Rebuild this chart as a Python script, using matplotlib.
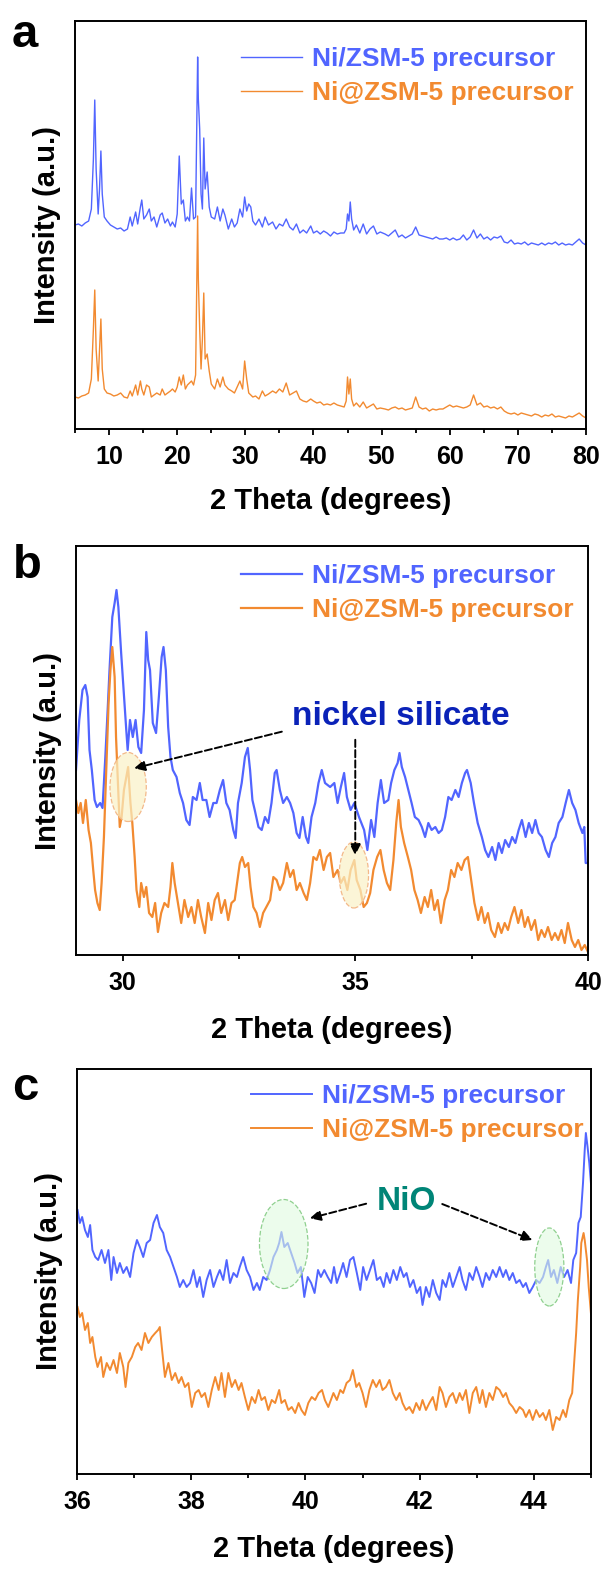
import matplotlib
matplotlib.use("Agg")
import matplotlib.pyplot as plt
from matplotlib.patches import Ellipse
from matplotlib.ticker import MultipleLocator

plt.rcParams['font.family'] = ['Liberation Sans', 'DejaVu Sans']
plt.rcParams['font.weight'] = 'bold'
plt.rcParams['axes.labelweight'] = 'bold'

BLUE = '#5165ff'
ORANGE = '#f28a30'
labels = ['Ni/ZSM-5 precursor', 'Ni@ZSM-5 precursor']

# ---- panel a : full scan, intensities in arbitrary units (offset curves)
a_theta = [5.0, 5.5, 6.0, 6.5, 7.0, 7.4, 7.7, 7.9, 8.1, 8.4,
           8.6, 8.8, 9.0, 9.3, 9.7, 10.2, 10.7, 11.2, 11.7, 12.2,
           12.7, 13.1, 13.4, 13.9, 14.2, 14.6, 14.8, 15.1, 15.5, 15.9,
           16.2, 16.6, 17.0, 17.5, 17.8, 18.2, 18.6, 19.0, 19.3, 19.7,
           20.0, 20.3, 20.6, 20.9, 21.2, 21.5, 21.8, 22.1, 22.4, 22.7,
           23.0, 23.1, 23.3, 23.5, 23.7, 23.9, 24.1, 24.4, 24.7, 25.0,
           25.5, 25.9, 26.3, 26.7, 27.0, 27.5, 28.0, 28.4, 28.8, 29.2,
           29.6, 29.9, 30.2, 30.5, 30.8, 31.1, 31.5, 32.0, 32.5, 32.9,
           33.4, 34.0, 34.5, 35.0, 35.5, 36.0, 36.5, 37.0, 37.5, 38.0,
           38.5, 39.0, 39.6, 40.0, 40.5, 41.0, 41.5, 42.0, 42.5, 43.0,
           43.5, 44.0, 44.5, 44.8, 45.0, 45.2, 45.4, 45.6, 45.9, 46.3,
           46.8, 47.3, 47.8, 48.3, 48.8, 49.3, 49.8, 50.5, 51.0, 51.5,
           52.0, 52.5, 53.0, 53.5, 54.0, 54.5, 55.0, 55.5, 56.0, 56.5,
           57.0, 57.5, 58.0, 58.5, 59.0, 59.5, 60.0, 60.5, 61.0, 61.5,
           62.0, 62.5, 63.0, 63.5, 64.0, 64.5, 65.0, 65.5, 66.0, 66.5,
           67.0, 67.5, 68.0, 68.5, 69.0, 69.5, 70.0, 70.5, 71.0, 71.5,
           72.0, 72.5, 73.0, 73.5, 74.0, 74.5, 75.0, 75.5, 76.0, 76.5,
           77.0, 77.5, 78.0, 78.5, 79.0, 79.5, 80.0]
a_blue = [204, 205, 203, 206, 208, 220, 270, 329, 260, 215,
          240, 278, 235, 212, 208, 204, 202, 200, 201, 198,
          200, 212, 203, 217, 205, 222, 229, 210, 214, 220,
          208, 212, 202, 214, 216, 206, 210, 203, 207, 202,
          215, 273, 225, 229, 208, 212, 208, 241, 210, 212,
          372, 330, 300, 235, 220, 291, 240, 257, 222, 212,
          210, 222, 208, 220, 214, 200, 210, 202, 206, 220,
          212, 232, 218, 225, 222, 208, 204, 210, 202, 212,
          204, 207, 200, 205, 203, 210, 202, 199, 205, 196,
          199, 196, 203, 196, 198, 195, 198, 196, 193, 197,
          195, 196, 196, 200, 215, 208, 227, 210, 199, 204,
          196, 205, 195, 200, 203, 195, 197, 195, 193, 196,
          199, 192, 194, 191, 193, 195, 202, 194, 193, 192,
          191, 190, 192, 190, 190, 191, 189, 191, 189, 190,
          194, 189, 192, 199, 191, 195, 190, 192, 189, 192,
          191, 193, 187, 186, 189, 185, 186, 185, 187, 184,
          186, 185, 184, 186, 184, 186, 185, 187, 184, 186,
          184, 185, 184, 187, 190, 186, 184]
a_orange = [32, 31, 33, 34, 36, 50, 100, 139, 80, 48,
            80, 110, 60, 40, 36, 35, 33, 34, 36, 32,
            31, 38, 33, 44, 34, 48, 40, 34, 44, 42,
            32, 34, 36, 34, 40, 34, 36, 38, 40, 37,
            42, 52, 44, 54, 40, 44, 46, 48, 44, 54,
            213, 150, 100, 60, 90, 136, 70, 75, 58, 45,
            40, 50, 42, 52, 44, 40, 38, 36, 42, 48,
            40, 68, 50, 36, 34, 32, 33, 30, 38, 33,
            35, 38, 36, 40, 37, 46, 34, 36, 38, 30,
            28, 27, 30, 28, 26, 27, 24, 25, 24, 26,
            24, 23, 22, 28, 52, 35, 50, 30, 23, 26,
            22, 27, 21, 23, 25, 20, 21, 20, 19, 21,
            22, 20, 21, 19, 20, 21, 32, 22, 20, 21,
            18, 20, 19, 20, 20, 22, 24, 22, 23, 22,
            21, 22, 24, 34, 24, 26, 22, 23, 21, 22,
            20, 22, 18, 16, 15, 16, 14, 16, 15, 14,
            13, 15, 14, 12, 14, 13, 15, 12, 13, 12,
            11, 13, 12, 14, 16, 13, 11]

# ---- panel b : 29-40 deg zoom
b_theta_blue = [29.00, 29.07, 29.14, 29.20, 29.25, 29.29, 29.34, 29.40, 29.45, 29.52,
                29.57, 29.63, 29.68, 29.72, 29.78, 29.83, 29.87, 29.91, 29.97, 30.04,
                30.08, 30.11, 30.16, 30.22, 30.28, 30.34, 30.40, 30.46, 30.51, 30.55,
                30.59, 30.65, 30.72, 30.78, 30.84, 30.88, 30.93, 30.98, 31.03, 31.08,
                31.16, 31.23, 31.30, 31.37, 31.44, 31.51, 31.59, 31.66, 31.72, 31.80,
                31.87, 31.95, 32.02, 32.09, 32.16, 32.23, 32.30, 32.38, 32.43, 32.48,
                32.56, 32.63, 32.69, 32.74, 32.79, 32.84, 32.92, 32.99, 33.06, 33.13,
                33.20, 33.27, 33.31, 33.38, 33.45, 33.53, 33.60, 33.67, 33.74, 33.80,
                33.87, 33.94, 33.99, 34.06, 34.14, 34.21, 34.28, 34.35, 34.46, 34.55,
                34.62, 34.69, 34.76, 34.82, 34.90, 34.98, 35.08, 35.19, 35.26, 35.34,
                35.41, 35.48, 35.55, 35.62, 35.71, 35.77, 35.84, 35.91, 35.95, 36.00,
                36.07, 36.14, 36.21, 36.28, 36.36, 36.43, 36.50, 36.57, 36.64, 36.72,
                36.79, 36.86, 36.93, 37.00, 37.07, 37.15, 37.22, 37.29, 37.36, 37.40,
                37.48, 37.55, 37.63, 37.72, 37.79, 37.86, 37.94, 38.01, 38.08, 38.15,
                38.22, 38.30, 38.37, 38.44, 38.51, 38.58, 38.66, 38.73, 38.80, 38.87,
                38.94, 39.01, 39.09, 39.16, 39.23, 39.30, 39.37, 39.45, 39.52, 39.59,
                39.66, 39.73, 39.80, 39.88, 39.92, 39.95, 40.00]
b_blue = [185, 235, 265, 270, 258, 205, 185, 155, 148, 152,
          147, 198, 245, 285, 338, 352, 365, 348, 302, 252,
          225, 205, 235, 218, 235, 208, 202, 245, 323, 295,
          285, 232, 222, 258, 298, 308, 285, 228, 198, 185,
          178, 162, 152, 135, 130, 158, 155, 172, 155, 155,
          138, 152, 152, 165, 175, 152, 145, 125, 117, 152,
          172, 198, 207, 185, 155, 145, 128, 125, 138, 132,
          152, 182, 185, 165, 152, 158, 152, 142, 122, 117,
          138, 118, 112, 138, 152, 172, 185, 172, 168, 172,
          152, 168, 182, 158, 145, 152, 138, 125, 105, 135,
          118, 152, 175, 152, 155, 172, 185, 192, 202, 188,
          178, 165, 152, 138, 135, 128, 118, 132, 125, 128,
          122, 125, 138, 158, 155, 165, 158, 172, 182, 185,
          172, 152, 132, 118, 105, 98, 108, 95, 112, 102,
          115, 108, 118, 112, 125, 135, 118, 132, 122, 135,
          122, 118, 105, 98, 112, 118, 132, 138, 152, 165,
          152, 145, 132, 122, 128, 92, 92]
b_theta_orange = [29.00, 29.05, 29.10, 29.15, 29.21, 29.27, 29.32, 29.37, 29.41, 29.46,
                  29.51, 29.55, 29.60, 29.65, 29.70, 29.74, 29.78, 29.83, 29.86, 29.90,
                  29.94, 29.98, 30.03, 30.08, 30.12, 30.17, 30.21, 30.26, 30.30, 30.36,
                  30.40, 30.46, 30.51, 30.57, 30.64, 30.70, 30.76, 30.83, 30.90, 30.98,
                  31.03, 31.07, 31.12, 31.19, 31.26, 31.33, 31.41, 31.48, 31.55, 31.62,
                  31.69, 31.77, 31.84, 31.91, 31.98, 32.05, 32.12, 32.20, 32.27, 32.34,
                  32.41, 32.46, 32.52, 32.57, 32.63, 32.70, 32.75, 32.81, 32.88, 32.95,
                  33.02, 33.09, 33.17, 33.24, 33.31, 33.38, 33.45, 33.53, 33.60, 33.67,
                  33.74, 33.81, 33.89, 33.96, 34.03, 34.10, 34.17, 34.24, 34.32, 34.39,
                  34.46, 34.53, 34.62, 34.69, 34.76, 34.83, 34.90, 34.98, 35.03, 35.11,
                  35.18, 35.25, 35.32, 35.39, 35.47, 35.54, 35.61, 35.68, 35.75, 35.82,
                  35.88, 35.93, 35.98, 36.05, 36.13, 36.20, 36.27, 36.34, 36.41, 36.49,
                  36.56, 36.63, 36.70, 36.77, 36.84, 36.92, 36.99, 37.06, 37.13, 37.20,
                  37.28, 37.35, 37.42, 37.49, 37.56, 37.64, 37.71, 37.78, 37.85, 37.92,
                  38.00, 38.07, 38.14, 38.21, 38.28, 38.35, 38.42, 38.50, 38.57, 38.64,
                  38.71, 38.78, 38.86, 38.93, 39.00, 39.07, 39.14, 39.22, 39.29, 39.36,
                  39.43, 39.50, 39.57, 39.65, 39.72, 39.79, 39.86, 39.93, 40.00]
b_orange = [155, 142, 152, 132, 155, 125, 112, 85, 65, 52,
            45, 72, 118, 185, 252, 285, 308, 278, 218, 172,
            128, 138, 165, 178, 188, 152, 132, 98, 65, 48,
            72, 58, 68, 42, 38, 52, 23, 42, 52, 48,
            68, 92, 72, 52, 32, 55, 38, 48, 32, 55,
            38, 22, 52, 35, 55, 62, 42, 55, 35, 52,
            55, 72, 92, 98, 88, 92, 68, 48, 42, 28,
            42, 48, 55, 78, 75, 65, 72, 92, 78, 85,
            65, 72, 62, 55, 72, 98, 95, 105, 85, 98,
            102, 78, 85, 72, 78, 65, 85, 95, 75, 65,
            48, 52, 62, 85, 98, 105, 85, 72, 65, 95,
            132, 155, 128, 112, 98, 85, 65, 55, 42, 58,
            48, 65, 45, 55, 32, 55, 65, 85, 78, 92,
            85, 95, 98, 75, 52, 35, 48, 32, 42, 25,
            18, 32, 22, 32, 25, 38, 48, 32, 45, 28,
            38, 25, 35, 15, 25, 18, 28, 15, 22, 15,
            25, 12, 32, 15, 8, 15, 5, 10, 3]

# ---- panel c : 36-45 deg zoom
c_theta_blue = [36.01, 36.05, 36.09, 36.14, 36.19, 36.23, 36.27, 36.32, 36.37, 36.43,
                36.49, 36.55, 36.60, 36.64, 36.70, 36.75, 36.81, 36.87, 36.93, 36.99,
                37.05, 37.10, 37.16, 37.22, 37.28, 37.34, 37.40, 37.45, 37.51, 37.57,
                37.63, 37.69, 37.75, 37.80, 37.86, 37.92, 37.98, 38.04, 38.10, 38.15,
                38.21, 38.27, 38.33, 38.39, 38.45, 38.50, 38.56, 38.62, 38.68, 38.74,
                38.80, 38.85, 38.91, 38.97, 39.03, 39.09, 39.15, 39.20, 39.26, 39.32,
                39.38, 39.44, 39.50, 39.54, 39.58, 39.63, 39.69, 39.75, 39.81, 39.86,
                39.92, 39.98, 40.04, 40.10, 40.16, 40.22, 40.27, 40.33, 40.39, 40.45,
                40.50, 40.55, 40.61, 40.66, 40.72, 40.78, 40.84, 40.90, 40.96, 41.01,
                41.07, 41.13, 41.19, 41.25, 41.31, 41.37, 41.42, 41.48, 41.54, 41.60,
                41.66, 41.72, 41.77, 41.83, 41.89, 41.95, 42.01, 42.05, 42.11, 42.17,
                42.23, 42.29, 42.35, 42.40, 42.46, 42.52, 42.58, 42.64, 42.70, 42.75,
                42.81, 42.87, 42.93, 42.99, 43.05, 43.10, 43.16, 43.22, 43.28, 43.34,
                43.40, 43.46, 43.51, 43.57, 43.63, 43.69, 43.75, 43.81, 43.86, 43.92,
                43.98, 44.04, 44.10, 44.16, 44.21, 44.25, 44.30, 44.35, 44.41, 44.47,
                44.53, 44.59, 44.65, 44.69, 44.74, 44.78, 44.82, 44.86, 44.89, 44.91,
                44.94, 44.97, 45.00]
c_blue = [264, 251, 257, 244, 237, 249, 224, 217, 214, 224,
          211, 224, 194, 217, 201, 211, 201, 207, 197, 221,
          234, 227, 217, 231, 234, 251, 259, 247, 241, 224,
          217, 207, 197, 187, 194, 187, 191, 204, 187, 197,
          177, 194, 204, 187, 197, 204, 194, 214, 191, 201,
          197, 207, 217, 204, 197, 184, 191, 184, 197, 194,
          204, 217, 224, 231, 242, 227, 231, 221, 211, 201,
          207, 177, 197, 191, 181, 204, 197, 204, 197, 191,
          207, 191, 201, 211, 197, 214, 217, 201, 184, 207,
          194, 204, 214, 194, 197, 187, 201, 191, 204, 194,
          207, 197, 201, 187, 194, 181, 187, 169, 187, 177,
          194, 181, 174, 194, 187, 201, 187, 197, 207, 194,
          184, 201, 194, 207, 197, 187, 201, 194, 204, 197,
          207, 197, 204, 194, 201, 191, 194, 187, 191, 181,
          187, 194, 191, 197, 207, 214, 197, 204, 191, 207,
          197, 204, 191, 214, 221, 251, 257, 291, 324, 341,
          327, 311, 290]
c_theta_orange = [36.01, 36.05, 36.09, 36.14, 36.19, 36.23, 36.27, 36.32, 36.36, 36.42,
                  36.46, 36.52, 36.58, 36.64, 36.70, 36.75, 36.81, 36.85, 36.90, 36.96,
                  37.02, 37.07, 37.13, 37.19, 37.25, 37.31, 37.37, 37.42, 37.45, 37.49,
                  37.54, 37.60, 37.66, 37.72, 37.78, 37.83, 37.89, 37.95, 38.01, 38.07,
                  38.13, 38.18, 38.24, 38.30, 38.36, 38.42, 38.48, 38.53, 38.59, 38.65,
                  38.71, 38.77, 38.83, 38.88, 38.94, 39.00, 39.06, 39.12, 39.18, 39.23,
                  39.29, 39.35, 39.41, 39.47, 39.54, 39.58, 39.64, 39.70, 39.76, 39.82,
                  39.88, 39.93, 39.99, 40.05, 40.11, 40.17, 40.23, 40.29, 40.34, 40.40,
                  40.49, 40.55, 40.61, 40.66, 40.72, 40.78, 40.83, 40.89, 40.94, 41.00,
                  41.06, 41.12, 41.18, 41.24, 41.30, 41.35, 41.41, 41.47, 41.53, 41.59,
                  41.65, 41.70, 41.76, 41.82, 41.88, 41.94, 42.00, 42.05, 42.11, 42.17,
                  42.23, 42.29, 42.35, 42.40, 42.46, 42.52, 42.58, 42.64, 42.70, 42.75,
                  42.81, 42.87, 42.93, 42.99, 43.05, 43.10, 43.16, 43.22, 43.28, 43.34,
                  43.40, 43.46, 43.51, 43.57, 43.63, 43.69, 43.75, 43.81, 43.86, 43.92,
                  43.98, 44.04, 44.10, 44.16, 44.21, 44.27, 44.33, 44.39, 44.45, 44.51,
                  44.56, 44.62, 44.67, 44.70, 44.74, 44.77, 44.81, 44.83, 44.87, 44.89,
                  44.93, 44.96, 45.00]
c_orange = [167, 157, 161, 144, 151, 131, 137, 117, 107, 117,
            97, 111, 104, 114, 101, 121, 107, 87, 111, 117,
            127, 131, 124, 141, 131, 137, 141, 144, 147, 124,
            97, 111, 94, 101, 91, 97, 87, 91, 67, 81,
            84, 77, 81, 67, 84, 97, 84, 101, 77, 101,
            87, 94, 84, 91, 77, 64, 77, 71, 84, 74,
            77, 64, 74, 71, 84, 71, 74, 64, 67, 61,
            71, 64, 59, 71, 77, 74, 81, 84, 74, 67,
            81, 74, 84, 81, 91, 94, 104, 87, 91, 81,
            67, 84, 94, 87, 94, 84, 87, 94, 81, 74,
            81, 71, 64, 67, 61, 71, 64, 74, 64, 71,
            77, 64, 87, 81, 67, 77, 81, 71, 81, 74,
            84, 61, 81, 87, 71, 84, 67, 81, 74, 87,
            84, 77, 81, 71, 67, 61, 67, 64, 57, 64,
            54, 64, 57, 61, 54, 64, 44, 57, 54, 64,
            57, 74, 81, 107, 141, 174, 207, 231, 241, 234,
            214, 187, 160]


def style(ax, xlim, ymax, major, minor, leg_anchor, labelpad=15):
    ax.set_xlim(*xlim)
    ax.set_ylim(0, ymax)
    ax.set_yticks([])
    ax.xaxis.set_major_locator(MultipleLocator(major))
    ax.xaxis.set_minor_locator(MultipleLocator(minor))
    ax.tick_params(axis='x', which='major', direction='out', length=4.5,
                   width=1.3, labelsize=18, pad=7)
    ax.tick_params(axis='x', which='minor', direction='out', length=3, width=1.3)
    for s in ax.spines.values():
        s.set_linewidth(1.4)
    ax.set_xlabel('2 Theta (degrees)', fontsize=21, labelpad=labelpad)
    ax.set_ylabel('Intensity (a.u.)', fontsize=21, labelpad=10)
    ax.legend(loc='upper right', bbox_to_anchor=leg_anchor, frameon=False,
              fontsize=19, handlelength=2.3, handletextpad=0.4,
              labelspacing=0.38, borderaxespad=0, borderpad=0,
              labelcolor='linecolor')


fig = plt.figure(figsize=(6.03, 15.71), dpi=100)

# a
ax = fig.add_axes([75 / 603, 1 - 429 / 1571, 511 / 603, 408 / 1571])
ax.plot(a_theta, a_blue, color=BLUE, lw=1.0, label=labels[0])
ax.plot(a_theta, a_orange, color=ORANGE, lw=1.0, label=labels[1])
style(ax, (5, 80), 408, 10, 5, (1 - 12 / 511, 1 - 26 / 408), labelpad=13)

# b
ax = fig.add_axes([76 / 603, 1 - 955 / 1571, 512 / 603, 409 / 1571])
ax.plot(b_theta_blue, b_blue, color=BLUE, lw=1.6, label=labels[0])
ax.plot(b_theta_orange, b_orange, color=ORANGE, lw=1.6, label=labels[1])
style(ax, (29, 40), 409, 5, 2.5, (1 - 14 / 512, 1 - 18 / 409))
for cx, cy, w, h in [(30.12, 168, 0.78, 69), (34.97, 80, 0.63, 66)]:
    ax.add_patch(Ellipse((cx, cy), w, h, facecolor=(0.98, 0.95, 0.78, 0.7),
                         edgecolor='#f3b98a', ls='--', lw=0.9, zorder=3))
ax.text(35.98, 230, 'nickel silicate', color='#0a22b8', fontsize=24,
        ha='center', va='baseline')
arrow = dict(arrowstyle='-|>', ls='--', color='black', lw=1.4, mutation_scale=16)
ax.annotate('', xy=(30.19, 186), xytext=(33.48, 224), arrowprops=arrow)
ax.annotate('', xy=(35.0, 97), xytext=(35.0, 218), arrowprops=arrow)

# c
ax = fig.add_axes([77 / 603, 1 - 1474 / 1571, 514 / 603, 405 / 1571])
ax.plot(c_theta_blue, c_blue, color=BLUE, lw=1.4, label=labels[0])
ax.plot(c_theta_orange, c_orange, color=ORANGE, lw=1.4, label=labels[1])
style(ax, (36, 45), 405, 2, 1, (1 - 7 / 514, 1 - 15 / 405))
for cx, cy, w, h in [(39.62, 230, 0.85, 89), (44.27, 207, 0.51, 78)]:
    ax.add_patch(Ellipse((cx, cy), w, h, facecolor=(0.88, 0.98, 0.88, 0.6),
                         edgecolor='#8fd08f', ls='--', lw=0.9, zorder=3))
ax.text(41.77, 264, 'NiO', color='#008577', fontsize=24, ha='center', va='baseline')
ax.annotate('', xy=(40.03, 255), xytext=(41.11, 271), arrowprops=arrow)
ax.annotate('', xy=(44.02, 233), xytext=(42.35, 271), arrowprops=arrow)

for letter, x, y in [('a', 12, 47), ('b', 13, 578), ('c', 12, 1100)]:
    fig.text(x / 603, 1 - y / 1571, letter, fontsize=34, fontweight='bold',
             ha='left', va='baseline')

fig.savefig('out.png', dpi=100)
